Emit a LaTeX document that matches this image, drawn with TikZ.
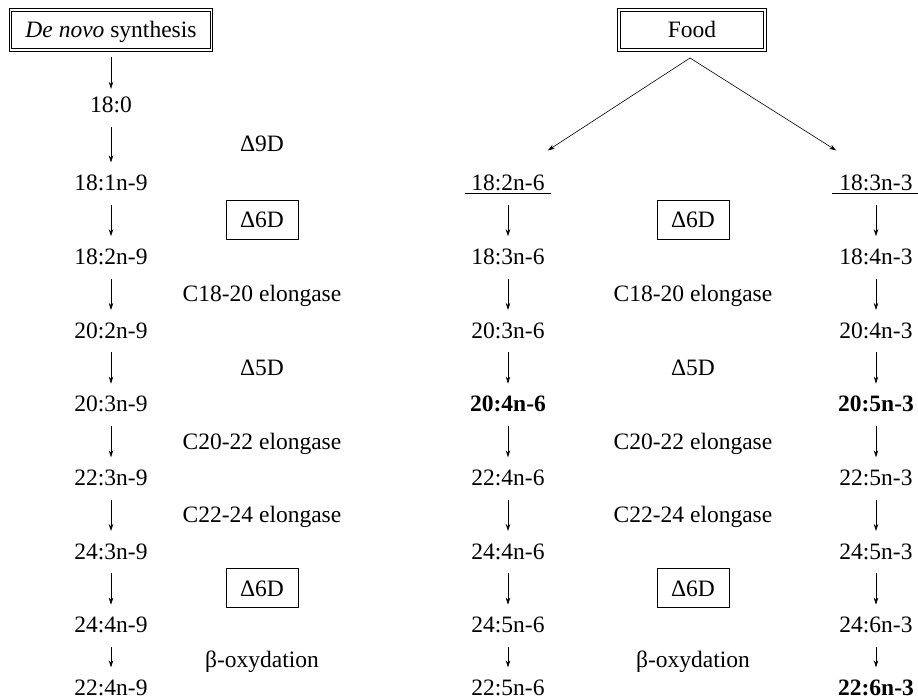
\documentclass[tikz,border=0pt]{standalone}
\usepackage{fontspec}
\setmainfont{Liberation Serif}
\usetikzlibrary{arrows.meta,positioning}

\begin{document}
\begin{tikzpicture}[
    x=1pt, y=-1pt,
    node distance=73.7pt,
    every node/.style={font=\fontsize{23.5pt}{28pt}\selectfont, inner sep=3pt, text height=16pt, text depth=0pt},
    bold/.style={font=\fontsize{23.5pt}{28pt}\selectfont\bfseries},
    enzyme/.style={rectangle, draw, line width=0.7pt, inner xsep=14pt, inner ysep=11.5pt},
    source/.style={rectangle, draw, double, double distance=1.8pt, line width=1pt, minimum height=39.5pt, align=center},
    arrow/.style={-{Stealth[length=7pt, width=4.5pt]}, line width=0.6pt, shorten <=11pt, shorten >=9pt},
    feed/.style={-{Stealth[length=7pt, width=4.5pt]}, line width=0.6pt}
]
    \useasboundingbox (0,0) rectangle (918,700);

    % n-9 pathway
    \node[source, minimum width=201pt] (denovo) at (111,30) {\textit{De novo} synthesis};
    \node (a0) at (111,105) {18:0};
    \node[below of=a0, yshift=-4pt] (a1) {18:1n-9};
    \node[below of=a1] (a2) {18:2n-9};
    \node[below of=a2] (a3) {20:2n-9};
    \node[below of=a3] (a4) {20:3n-9};
    \node[below of=a4] (a5) {22:3n-9};
    \node[below of=a5] (a6) {24:3n-9};
    \node[below of=a6] (a7) {24:4n-9};
    \node[below of=a7, yshift=11pt] (a8) {22:4n-9};

    \node (d9) at (262,144) {Δ9D};
    \node[enzyme] (d6a) at (262,219.5) {Δ6D};
    \node (ea) at (262,293.5) {C18-20 elongase};
    \node (d5a) at (262,367) {Δ5D};
    \node (eb) at (262,441) {C20-22 elongase};
    \node (ec) at (262,514.5) {C22-24 elongase};
    \node[enzyme] (d6b) at (262,588) {Δ6D};
    \node (betaa) at (262,659) {β-oxydation};

    \draw[arrow, shorten <=7pt, shorten >=5pt] (denovo) -- (a0);
    \draw[arrow] (a0) -- (a1);
    \draw[arrow] (a1) -- (a2);
    \draw[arrow] (a2) -- (a3);
    \draw[arrow] (a3) -- (a4);
    \draw[arrow] (a4) -- (a5);
    \draw[arrow] (a5) -- (a6);
    \draw[arrow] (a6) -- (a7);
    \draw[arrow] (a7) -- (a8);

    % n-6 and n-3 pathways
    \node[source, minimum width=146pt] (food) at (692,30) {Food};
    \coordinate (split) at (690,58);

    \node (b1) at (508,182.7) {18:2n-6};
    \node[below of=b1] (b2) {18:3n-6};
    \node[below of=b2] (b3) {20:3n-6};
    \node[bold, below of=b3] (b4) {20:4n-6};
    \node[below of=b4] (b5) {22:4n-6};
    \node[below of=b5] (b6) {24:4n-6};
    \node[below of=b6] (b7) {24:5n-6};
    \node[below of=b7, yshift=11pt] (b8) {22:5n-6};

    \node (c1) at (876,182.7) {18:3n-3};
    \node[below of=c1] (c2) {18:4n-3};
    \node[below of=c2] (c3) {20:4n-3};
    \node[bold, below of=c3] (c4) {20:5n-3};
    \node[below of=c4] (c5) {22:5n-3};
    \node[below of=c5] (c6) {24:5n-3};
    \node[below of=c6] (c7) {24:6n-3};
    \node[bold, below of=c7, yshift=11pt] (c8) {22:6n-3};

    \node[enzyme] (d6c) at (693,219.5) {Δ6D};
    \node (ed) at (693,293.5) {C18-20 elongase};
    \node (d5b) at (693,367) {Δ5D};
    \node (ee) at (693,441) {C20-22 elongase};
    \node (ef) at (693,514.5) {C22-24 elongase};
    \node[enzyme] (d6d) at (693,588) {Δ6D};
    \node (betab) at (693,659) {β-oxydation};

    \draw[feed] (split) -- ([yshift=21pt]b1.north east);
    \draw[feed] (split) -- ([yshift=21pt]c1.north west);
    \draw[line width=0.7pt] ([xshift=-3pt, yshift=1pt]b1.south west) -- ([xshift=3pt, yshift=1pt]b1.south east);
    \draw[line width=0.7pt] ([xshift=-4pt, yshift=1pt]c1.south west) -- ([xshift=3pt, yshift=1pt]c1.south east);

    \draw[arrow] (b1) -- (b2);
    \draw[arrow] (b2) -- (b3);
    \draw[arrow] (b3) -- (b4);
    \draw[arrow] (b4) -- (b5);
    \draw[arrow] (b5) -- (b6);
    \draw[arrow] (b6) -- (b7);
    \draw[arrow] (b7) -- (b8);

    \draw[arrow] (c1) -- (c2);
    \draw[arrow] (c2) -- (c3);
    \draw[arrow] (c3) -- (c4);
    \draw[arrow] (c4) -- (c5);
    \draw[arrow] (c5) -- (c6);
    \draw[arrow] (c6) -- (c7);
    \draw[arrow] (c7) -- (c8);
\end{tikzpicture}
\end{document}
